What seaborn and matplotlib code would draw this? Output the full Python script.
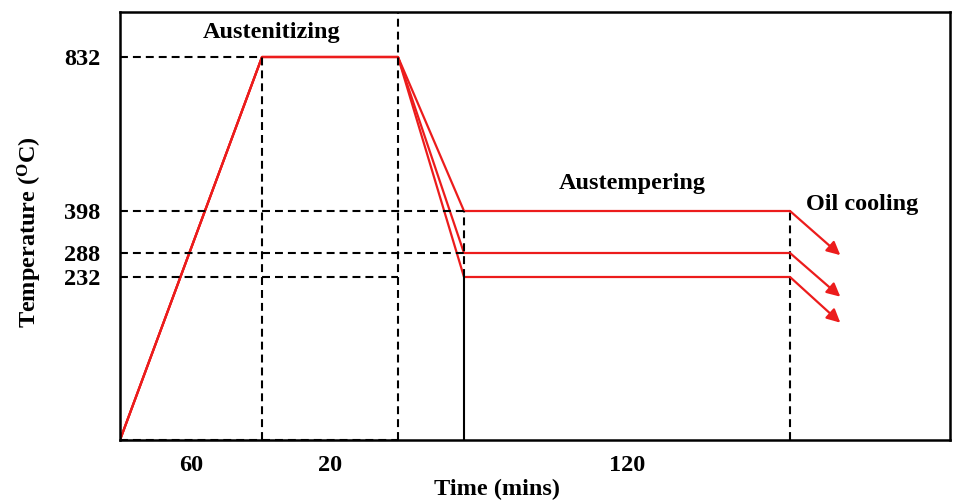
import numpy as np
import pandas as pd
import matplotlib
matplotlib.use('Agg')
import matplotlib.pyplot as plt
import seaborn as sns

# Schedule (minutes, degC)
stage_times = [0, 60, 80, 85, 205]
austenitize_temp = 832
austemper_temps = [398, 288, 232]
oil_end_time = 216
oil_end_temps = [283, 204, 167]
duration_labels = ['60', '20', '120']
duration_spans = [(0, 60), (60, 80), (85, 205)]

# schematic (not to scale) axis breakpoints: value -> pixel position
x_breaks = [0, 60, 80, 85, 205, 240]
x_pos = [120, 262, 398, 464, 790, 950]
y_breaks = [0, 232, 288, 398, 832, 960]
y_pos = [0, 163, 187, 229, 383, 428]

sns.set_style('white')
plt.rcParams['font.family'] = ['Liberation Serif', 'DejaVu Serif']
plt.rcParams['font.weight'] = 'bold'
plt.rcParams['mathtext.fontset'] = 'custom'
plt.rcParams['mathtext.rm'] = 'Liberation Serif'
plt.rcParams['mathtext.bf'] = 'Liberation Serif:bold'
for key in ['text.color', 'axes.labelcolor', 'xtick.color', 'ytick.color']:
    plt.rcParams[key] = 'black'

red = '#ec1c1c'
dash = (0, (3.8, 2.4))
fs = 17.5

fig = plt.figure(figsize=(9.54, 5.0), dpi=100)
ax = fig.add_axes([120 / 954, 60 / 500, 830 / 954, 428 / 500])

ax.set_xscale('function', functions=(lambda v: np.interp(v, x_breaks, x_pos),
                                     lambda p: np.interp(p, x_pos, x_breaks)))
ax.set_yscale('function', functions=(lambda v: np.interp(v, y_breaks, y_pos),
                                     lambda p: np.interp(p, y_pos, y_breaks)))
ax.set_xlim(0, 240)
ax.set_ylim(0, 960)

# heating / holding / quench / austempering paths
rows = []
for k, t in enumerate(austemper_temps):
    temps = [0, austenitize_temp, austenitize_temp, t, t]
    for tm, tp in zip(stage_times, temps):
        rows.append({'time': tm, 'temp': tp, 'run': k})
df = pd.DataFrame(rows)
sns.lineplot(data=df, x='time', y='temp', units='run', estimator=None, sort=False,
             color=red, lw=1.6, ax=ax)

# oil cooling arrows
for t, e in zip(austemper_temps, oil_end_temps):
    ax.annotate('', xy=(oil_end_time, e), xytext=(stage_times[-1], t),
                arrowprops=dict(arrowstyle='-|>', color=red, lw=1.6,
                                mutation_scale=20, shrinkA=0, shrinkB=0))

# guide lines
kw = dict(color='black', lw=1.5, linestyle=dash)
ax.plot([0, stage_times[1]], [austenitize_temp] * 2, **kw)
ax.plot([0, stage_times[3]], [austemper_temps[0]] * 2, **kw)
ax.plot([0, stage_times[3]], [austemper_temps[1]] * 2, **kw)
ax.plot([0, stage_times[2]], [austemper_temps[2]] * 2, **kw)
ax.plot([0, stage_times[2]], [0, 0], clip_on=False, **kw)
ax.plot([stage_times[1]] * 2, [0, austenitize_temp], **kw)
ax.plot([stage_times[2]] * 2, [0, 960], **kw)
ax.plot([stage_times[3]] * 2, [austemper_temps[2], austemper_temps[0]], **kw)
ax.plot([stage_times[4]] * 2, [0, austemper_temps[0]], **kw)
ax.plot([stage_times[3]] * 2, [0, austemper_temps[2]], color='black', lw=1.5)

# axes styling
for s in ax.spines.values():
    s.set_color('black')
    s.set_linewidth(1.8)
ax.set_yticks(austemper_temps[::-1] + [austenitize_temp])
ax.set_yticklabels([str(v) for v in austemper_temps[::-1] + [austenitize_temp]])
ax.set_xticks([(a + b) / 2 for a, b in duration_spans])
ax.set_xticklabels(duration_labels)
ax.tick_params(axis='both', length=0, labelsize=fs)
ax.tick_params(axis='y', pad=14)
ax.tick_params(axis='x', pad=11)
for lab in ax.get_xticklabels() + ax.get_yticklabels():
    lab.set_fontweight('bold')

ax.set_xlabel('Time (mins)', fontsize=fs, fontweight='bold')
ax.xaxis.set_label_coords((497 - 120) / 830, -0.090)
ax.set_ylabel(r'Temperature ($\mathbf{^{O}}$C)', fontsize=fs, fontweight='bold')
ax.yaxis.set_label_coords((44 - 120) / 830, 0.486)

ax.text(0.183, 0.953, 'Austenitizing', transform=ax.transAxes, ha='center', va='center',
        fontsize=fs, fontweight='bold')
ax.text(0.617, 0.600, 'Austempering', transform=ax.transAxes, ha='center', va='center',
        fontsize=fs, fontweight='bold')
ax.text(0.894, 0.551, 'Oil cooling', transform=ax.transAxes, ha='center', va='center',
        fontsize=fs, fontweight='bold')

fig.savefig('out.png', dpi=100)
